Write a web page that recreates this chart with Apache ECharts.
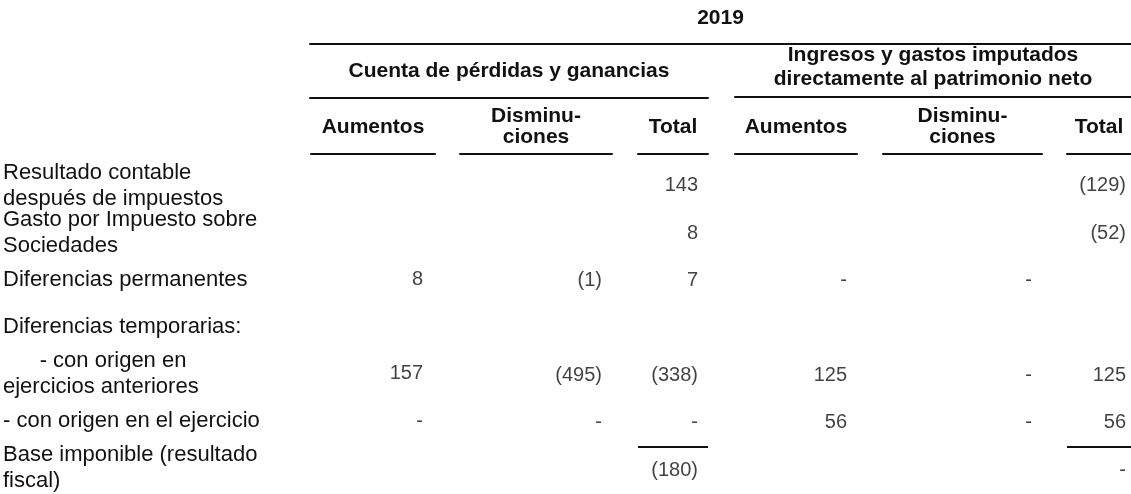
<!DOCTYPE html>
<html>
<head>
<meta charset="utf-8">
<script src="https://cdn.jsdelivr.net/npm/echarts@6/dist/echarts.min.js"></script>
<style>
  html, body { margin: 0; padding: 0; background: #fff; }
  #chart { width: 1131px; height: 494px; }
</style>
</head>
<body>
<div id="chart"></div>
<script>
// ---- data ----
const yearLabel = '2019';
const groupHeaders = ['Cuenta de pérdidas y ganancias', 'Ingresos y gastos imputados\ndirectamente al patrimonio neto'];
const colHeaders = ['Aumentos', 'Disminu-\nciones', 'Total', 'Aumentos', 'Disminu-\nciones', 'Total'];
const rowLabels = [
  'Resultado contable\ndespués de impuestos',
  'Gasto por Impuesto sobre\nSociedades',
  'Diferencias permanentes',
  'Diferencias temporarias:',
  '      - con origen en\nejercicios anteriores',
  '- con origen en el ejercicio',
  'Base imponible (resultado\nfiscal)'
];
// null = blank cell, 0 = "-"
const pygAumentos       = [null, null, 8,    null, 157,  0,  null];
const pygDisminuciones  = [null, null, -1,   null, -495, 0,  null];
const pygTotal          = [143,  8,    7,    null, -338, 0,  -180];
const pnAumentos        = [null, null, 0,    null, 125,  56, null];
const pnDisminuciones   = [null, null, 0,    null, 0,    0,  null];
const pnTotal           = [-129, -52,  null, null, 125,  56, 0];
const columns = [pygAumentos, pygDisminuciones, pygTotal, pnAumentos, pnDisminuciones, pnTotal];
const totalRowIndex = 6;   // row that has a rule above it in the Total columns
const totalColumns = [2, 5];

// ---- layout / style ----
const FONT = "'Liberation Sans', Arial, Helvetica, sans-serif";
const INK = '#111';
const colSpans = [[310, 125], [460, 152], [638, 70], [735, 122], [883, 159], [1067, 64]];
const colPad = [12, 10, 10, 10, 10, 5];
const bodyTop = 162;

function fmt(v) {
  if (v === 0) return '-';
  if (v < 0) return '(' + Math.abs(v) + ')';
  return String(v);
}

const grid = [], xAxis = [], yAxis = [], series = [];

colSpans.forEach(function (span, i) {
  grid.push({ left: span[0], width: span[1], top: bodyTop, bottom: 0 });
  // header axis (top) with column title and underline
  xAxis.push({
    type: 'category', gridIndex: i, position: 'top', offset: 8,
    data: [colHeaders[i]],
    axisLine: { show: true, lineStyle: { color: INK, width: 2 } },
    axisTick: { show: false },
    axisLabel: {
      show: true, interval: 0, margin: 27, verticalAlign: 'middle',
      fontFamily: FONT, fontSize: 21, fontWeight: 'bold', lineHeight: 21, color: INK, align: 'center'
    },
    splitLine: { show: false }
  });
  // hidden value axis used for right alignment of cell values
  xAxis.push({ type: 'value', gridIndex: i, min: 0, max: 1, show: false });
  const isTotal = totalColumns.indexOf(i) >= 0;
  yAxis.push({
    type: 'category', gridIndex: i, inverse: true, data: rowLabels,
    axisLine: { show: false }, axisTick: { show: false },
    axisLabel: i === 0 ? {
      show: true, interval: 0, align: 'left', margin: span[0] - 2,
      fontFamily: FONT, fontSize: 22, lineHeight: 26, color: INK
    } : { show: false },
    splitLine: isTotal ? {
      show: true, showMinLine: false, showMaxLine: false,
      interval: function (idx) { return idx === totalRowIndex - 1 || idx === totalRowIndex; },
      lineStyle: { color: INK, width: 2 }
    } : { show: false }
  });
  series.push({
    type: 'scatter', xAxisIndex: 2 * i + 1, yAxisIndex: i,
    symbolSize: 0, silent: true, animation: false,
    data: columns[i].map(function (v, r) { return v === null ? null : [1, r, v]; })
                    .filter(function (d) { return d !== null; }),
    label: {
      show: true, position: 'left', distance: colPad[i],
      formatter: function (p) { return fmt(p.value[2]); },
      fontFamily: FONT, fontSize: 20, color: INK
    }
  });
});

// group header grids and the year header grid
const headerGrids = [
  { left: 310, width: 398, top: 97, text: groupHeaders[0], margin: 26, lh: 24 },
  { left: 735, width: 396, top: 96, text: groupHeaders[1], margin: 29, lh: 24 },
  { left: 310, width: 821, top: 43, text: yearLabel, margin: 25, lh: 20 }
];
headerGrids.forEach(function (h) {
  const gi = grid.length;
  grid.push({ left: h.left, width: h.width, top: h.top, height: 1 });
  xAxis.push({
    type: 'category', gridIndex: gi, position: 'top', data: [h.text],
    axisLine: { show: true, lineStyle: { color: INK, width: 2 } },
    axisTick: { show: false },
    axisLabel: {
      show: true, interval: 0, margin: h.margin, verticalAlign: 'middle',
      fontFamily: FONT, fontSize: 21, fontWeight: 'bold', lineHeight: h.lh, color: INK
    },
    splitLine: { show: false }
  });
  yAxis.push({ type: 'value', gridIndex: gi, show: false });
});

const chart = echarts.init(document.getElementById('chart'), null, { renderer: 'canvas' });
chart.setOption({
  backgroundColor: '#fff',
  animation: false,
  grid: grid, xAxis: xAxis, yAxis: yAxis, series: series
});
</script>
</body>
</html>
